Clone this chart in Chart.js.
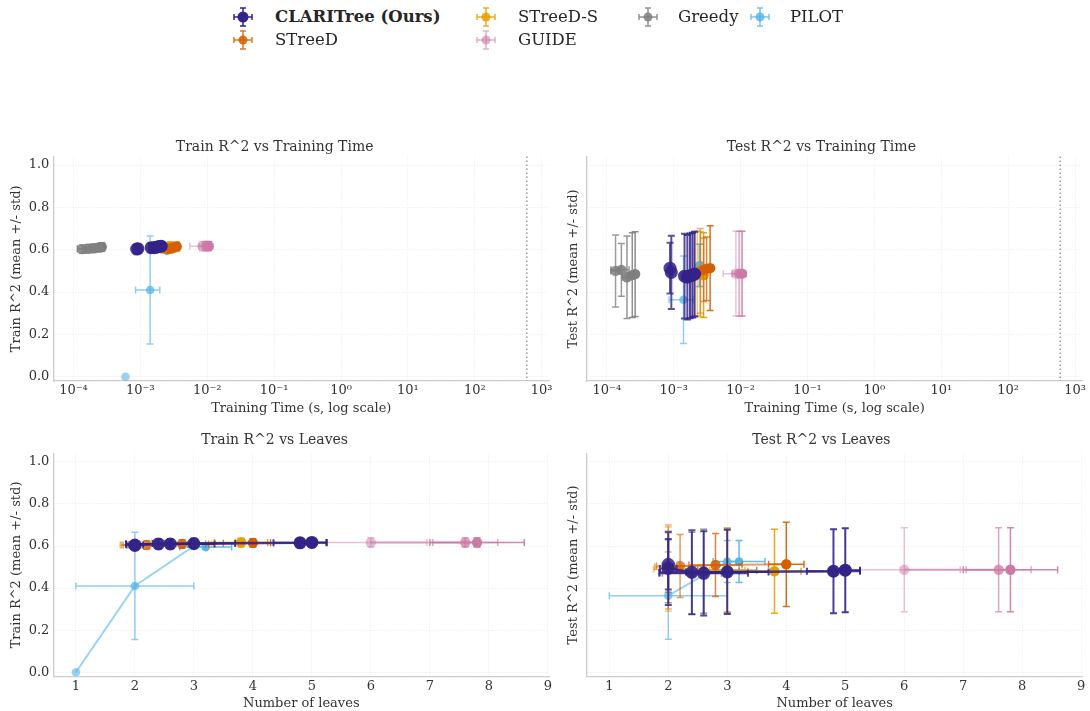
<!DOCTYPE html>
<html lang="en">
<head>
<meta charset="utf-8">
<title>R^2 vs training time and leaves</title>
<script src="https://cdn.jsdelivr.net/npm/chart.js"></script>
<style>
  body { margin: 0; background: #fff; width: 1090px; height: 711px; position: relative; overflow: hidden;
         font-family: "DejaVu Serif", serif; color: #262626; }
  canvas.panel { position: absolute; }
  .leg-icon { position: absolute; }
  .leg-text { position: absolute; font-size: 16.5px; line-height: 20px; white-space: nowrap; color: #262626; }
</style>
</head>
<body>
<div id="legend"></div>
<canvas id="c1" class="panel" width="560" height="290" style="left:0;top:130px"></canvas>
<canvas id="c2" class="panel" width="530" height="290" style="left:560px;top:130px"></canvas>
<canvas id="c3" class="panel" width="560" height="286" style="left:0;top:425px"></canvas>
<canvas id="c4" class="panel" width="530" height="286" style="left:560px;top:425px"></canvas>

<script>
// methods, in the same row order as every data array below
const methods = ['CLARITree (Ours)', 'STreeD', 'STreeD-S', 'GUIDE', 'Greedy', 'PILOT'];

// number of leaves (mean / std) per configuration
const leaves = [
  [2, 2, 2.4, 2.6, 3, 4.8, 5],
  [2, 2.2, 2.8, 4],
  [2, 3, 3.8],
  [6, 7.6, 7.8],
  [2, 2, 2.4, 2.6, 3],
  [1, 2, 3, 3.2]
];
const leavesStd = [
  [0, 0.14, 0.55, 0.75, 0.7, 0.45, 0.25],
  [0.23, 0.4, 0.45, 0.3],
  [0.25, 0.3, 0.45],
  [0.95, 0.55, 0.8],
  [0, 0.1, 0.5, 0.6, 0.5],
  [0, 1.0, 0, 0.44]
];

// training time in seconds (mean / std)
const trainTime = [
  [8.8e-4, 9.2e-4, 1.45e-3, 1.6e-3, 1.75e-3, 1.9e-3, 2.05e-3],
  [2.5e-3, 2.8e-3, 3.1e-3, 3.5e-3],
  [2.25e-3, 2.5e-3, 2.8e-3],
  [8.5e-3, 9.5e-3, 1.05e-2],
  [1.35e-4, 1.65e-4, 2.0e-4, 2.4e-4, 2.65e-4],
  [6.0e-4, 1.4e-3, 2.4e-3, 2.5e-3]
];
const trainTimeStd = [
  [5e-5, 5e-5, 1e-4, 1e-4, 1.2e-4, 1.5e-4, 1.8e-4],
  [2.5e-4, 3e-4, 3e-4, 3.5e-4],
  [2e-4, 2.5e-4, 3e-4],
  [3e-3, 2e-3, 1.5e-3],
  [2e-5, 5e-5, 3e-5, 3e-5, 3e-5],
  [0, 5.5e-4, 1e-4, 1e-4]
];

// train R^2 (mean / std)
const trainR2 = [
  [0.603, 0.605, 0.61, 0.61, 0.612, 0.615, 0.617],
  [0.605, 0.605, 0.61, 0.615],
  [0.605, 0.61, 0.617],
  [0.617, 0.617, 0.617],
  [0.603, 0.605, 0.607, 0.61, 0.613],
  [0.0, 0.41, 0.6, 0.595]
];
const trainR2Std = [
  [0.02, 0.02, 0.022, 0.022, 0.022, 0.02, 0.02],
  [0.02, 0.02, 0.02, 0.02],
  [0.02, 0.02, 0.02],
  [0.022, 0.022, 0.022],
  [0.02, 0.02, 0.02, 0.02, 0.02],
  [0, 0.255, 0.01, 0.01]
];

// test R^2 (mean / std); PILOT with one leaf falls off the plot
const testR2 = [
  [0.513, 0.493, 0.475, 0.47, 0.477, 0.48, 0.485],
  [0.5, 0.505, 0.51, 0.513],
  [0.49, 0.485, 0.48],
  [0.487, 0.487, 0.487],
  [0.5, 0.505, 0.47, 0.48, 0.485],
  [null, 0.364, 0.526, 0.526]
];
const testR2Std = [
  [0.12, 0.173, 0.2, 0.2, 0.2, 0.2, 0.2],
  [0.2, 0.15, 0.15, 0.2],
  [0.2, 0.2, 0.2],
  [0.2, 0.2, 0.2],
  [0.17, 0.125, 0.195, 0.2, 0.2],
  [0, 0.207, 0.1, 0.1]
];

const timeTicks = [1e-4, 1e-3, 1e-2, 1e-1, 1, 10, 100, 1000];
const leafTicks = [1, 2, 3, 4, 5, 6, 7, 8, 9];
const r2Ticks = [0, 0.2, 0.4, 0.6, 0.8, 1.0];
const timeLimit = 600;

const colors = ['#332288', '#D55E00', '#E69F00', '#CC79A7', '#7f7f7f', '#56B4E9'];
const alphaFloor = [0.85, 0.55, 0.6, 0.5, 0.85, 0.6];
const FONT = '"DejaVu Serif", serif';
const TEXT = '#333333';

function rgba(hex, a) {
  const n = parseInt(hex.slice(1), 16);
  return 'rgba(' + (n >> 16) + ',' + ((n >> 8) & 255) + ',' + (n & 255) + ',' + a + ')';
}

const SUP = {'0':'⁰','1':'¹','2':'²','3':'³','4':'⁴','5':'⁵','6':'⁶','7':'⁷','8':'⁸','9':'⁹','-':'⁻'};
function pow10Label(v) {
  const e = Math.round(Math.log10(v));
  return '10' + String(e).split('').map(c => SUP[c]).join('');
}

// opacity grows along each method's configurations
function alphaList(k, n) {
  const lo = alphaFloor[k];
  const out = [];
  for (let i = 0; i < n; i++) out.push(n > 1 ? lo + (1 - lo) * i / (n - 1) : 1);
  return out;
}

// error bars drawn under each dataset's own markers
const errorBars = {
  id: 'errorBars',
  beforeDatasetDraw(chart, args) {
    const ds = chart.data.datasets[args.index];
    if (!ds.errX) return;
    const xs = chart.scales.x, ys = chart.scales.y, a = chart.chartArea, ctx = chart.ctx;
    const cap = 3.5;
    ctx.save();
    ctx.beginPath();
    ctx.rect(a.left, a.top, a.right - a.left, a.bottom - a.top);
    ctx.clip();
    ctx.lineWidth = ds.errWidth;
    ds.data.forEach((p, i) => {
      if (p.y == null) return;
      ctx.strokeStyle = rgba(ds.baseColor, ds.alphas[i] * 0.9);
      const px = xs.getPixelForValue(p.x), py = ys.getPixelForValue(p.y);
      const ex = ds.errX[i], ey = ds.errY[i];
      if (ex > 0 && p.x - ex > 0) {
        const x1 = xs.getPixelForValue(p.x - ex), x2 = xs.getPixelForValue(p.x + ex);
        ctx.beginPath();
        ctx.moveTo(x1, py); ctx.lineTo(x2, py);
        ctx.moveTo(x1, py - cap); ctx.lineTo(x1, py + cap);
        ctx.moveTo(x2, py - cap); ctx.lineTo(x2, py + cap);
        ctx.stroke();
      }
      if (ey > 0) {
        const y1 = ys.getPixelForValue(p.y - ey), y2 = ys.getPixelForValue(p.y + ey);
        ctx.beginPath();
        ctx.moveTo(px, y1); ctx.lineTo(px, y2);
        ctx.moveTo(px - cap, y1); ctx.lineTo(px + cap, y1);
        ctx.moveTo(px - cap, y2); ctx.lineTo(px + cap, y2);
        ctx.stroke();
      }
    });
    ctx.restore();
  }
};

// dotted time-limit marker on the log time axis
const limitLine = {
  id: 'limitLine',
  beforeDatasetsDraw(chart) {
    if (chart.scales.x.type !== 'logarithmic') return;
    const a = chart.chartArea, ctx = chart.ctx;
    const x = chart.scales.x.getPixelForValue(timeLimit);
    ctx.save();
    ctx.strokeStyle = '#999999';
    ctx.lineWidth = 1.5;
    ctx.setLineDash([1.5, 2.5]);
    ctx.beginPath();
    ctx.moveTo(x, a.top); ctx.lineTo(x, a.bottom);
    ctx.stroke();
    ctx.restore();
  }
};

function buildDatasets(xArr, xStd, yArr, yStd, withLine) {
  return methods.map((m, k) => {
    const al = alphaList(k, xArr[k].length);
    const col = colors[k];
    return {
      label: m,
      data: xArr[k].map((x, i) => ({x: x, y: yArr[k][i]})),
      errX: xStd[k], errY: yStd[k], alphas: al, baseColor: col,
      errWidth: k === 0 ? 2 : 1.5,
      showLine: withLine,
      borderColor: rgba(col, k === 0 ? 0.85 : 0.6),
      borderWidth: k === 0 ? 2.5 : 2,
      pointBackgroundColor: al.map(v => rgba(col, v)),
      pointBorderColor: al.map(v => rgba(col, v)),
      pointBorderWidth: 0,
      pointRadius: k === 0 ? 6.5 : (k === 5 ? 4.3 : 5.2)
    };
  });
}

const gridStyle = { color: '#e4e4e4', lineWidth: 0.8, drawTicks: false };
const borderStyle = { color: '#cccccc', width: 1.3, dash: [1, 2] };

function makePanel(p) {
  const isLeft = p.left;
  const isTop = p.top;
  const tickFont = {family: FONT, size: 13};
  const xScale = p.time ? {
    type: 'logarithmic', min: 5e-5, max: 1300,
    afterBuildTicks: s => { s.ticks = timeTicks.map(v => ({value: v})); },
    ticks: { callback: v => pow10Label(v), color: TEXT, font: tickFont, padding: 2, maxRotation: 0, autoSkip: false }
  } : {
    type: 'linear', min: 0.617, max: 9.025,
    afterBuildTicks: s => { s.ticks = leafTicks.map(v => ({value: v})); },
    ticks: { callback: v => String(v), color: TEXT, font: tickFont, padding: 2, maxRotation: 0, autoSkip: false }
  };
  xScale.grid = gridStyle;
  xScale.border = borderStyle;
  xScale.title = { display: true, text: p.time ? 'Training Time (s, log scale)' : 'Number of leaves',
                   color: TEXT, font: {family: FONT, size: 13}, padding: {top: 0, bottom: isTop ? 3.5 : 0} };
  xScale.afterFit = s => { s.height = isTop ? 39 : 34.6; };

  const yScale = {
    type: 'linear', min: -0.02, max: 1.04,
    afterBuildTicks: s => { s.ticks = r2Ticks.map(v => ({value: v})); },
    ticks: { display: isLeft, callback: v => v.toFixed(1), color: TEXT, font: tickFont, padding: 4 },
    grid: gridStyle,
    border: borderStyle,
    title: { display: true, text: p.ylabel, color: TEXT, font: {family: FONT, size: 13},
             padding: {top: isLeft ? 9 : 6, bottom: 0} },
    afterFit: s => { s.width = isLeft ? 53.3 : 26.7; }
  };

  new Chart(document.getElementById(p.id), {
    type: 'scatter',
    data: { datasets: buildDatasets(p.xs, p.xsd, p.ys, p.ysd, !p.time) },
    options: {
      responsive: false, animation: false, devicePixelRatio: 1, events: [],
      layout: { padding: { left: 0, right: isLeft ? 10.7 : 7.3, top: 0, bottom: 0 } },
      scales: { x: xScale, y: yScale },
      plugins: {
        legend: { display: false },
        tooltip: { enabled: false },
        title: { display: true, text: p.title, color: TEXT, font: {family: FONT, size: 14, weight: 'normal'},
                 padding: isTop ? {top: 8.5, bottom: 1.3} : {top: 7, bottom: 4.7} }
      }
    },
    plugins: [errorBars, limitLine]
  });
}

makePanel({id: 'c1', left: true, top: true, time: true, title: 'Train R^2 vs Training Time',
           ylabel: 'Train R^2 (mean +/- std)', xs: trainTime, xsd: trainTimeStd, ys: trainR2, ysd: trainR2Std});
makePanel({id: 'c2', left: false, top: true, time: true, title: 'Test R^2 vs Training Time',
           ylabel: 'Test R^2 (mean +/- std)', xs: trainTime, xsd: trainTimeStd, ys: testR2, ysd: testR2Std});
makePanel({id: 'c3', left: true, top: false, time: false, title: 'Train R^2 vs Leaves',
           ylabel: 'Train R^2 (mean +/- std)', xs: leaves, xsd: leavesStd, ys: trainR2, ysd: trainR2Std});
makePanel({id: 'c4', left: false, top: false, time: false, title: 'Test R^2 vs Leaves',
           ylabel: 'Test R^2 (mean +/- std)', xs: leaves, xsd: leavesStd, ys: testR2, ysd: testR2Std});

// legend: 4 columns, filled column by column
const legendSpots = [[243, 17], [243, 40], [486, 17], [486, 40], [648, 17], [760, 17]];
const legendGap = [32, 32, 32, 32, 30, 30];
const legendAlpha = [1, 0.85, 0.85, 0.6, 0.85, 0.8];
const legendBox = document.getElementById('legend');
methods.forEach((m, k) => {
  const [cx, cy] = legendSpots[k];
  const cv = document.createElement('canvas');
  cv.width = 26; cv.height = 24;
  cv.className = 'leg-icon';
  cv.style.left = (cx - 13) + 'px';
  cv.style.top = (cy - 12) + 'px';
  const g = cv.getContext('2d');
  const col = rgba(colors[k], legendAlpha[k]);
  g.strokeStyle = col; g.fillStyle = col; g.lineWidth = 1.5;
  g.beginPath();
  g.moveTo(4, 12); g.lineTo(22, 12);
  g.moveTo(4, 9); g.lineTo(4, 15);
  g.moveTo(22, 9); g.lineTo(22, 15);
  g.moveTo(13, 3); g.lineTo(13, 21);
  g.moveTo(10, 3); g.lineTo(16, 3);
  g.moveTo(10, 21); g.lineTo(16, 21);
  g.stroke();
  g.beginPath();
  g.arc(13, 12, k === 0 ? 5.5 : 4.5, 0, Math.PI * 2);
  g.fill();
  legendBox.appendChild(cv);
  const t = document.createElement('span');
  t.className = 'leg-text';
  t.textContent = m;
  t.style.left = (cx + legendGap[k]) + 'px';
  t.style.top = (cy - 10) + 'px';
  if (k === 0) t.style.fontWeight = 'bold';
  legendBox.appendChild(t);
});
</script>
</body>
</html>
